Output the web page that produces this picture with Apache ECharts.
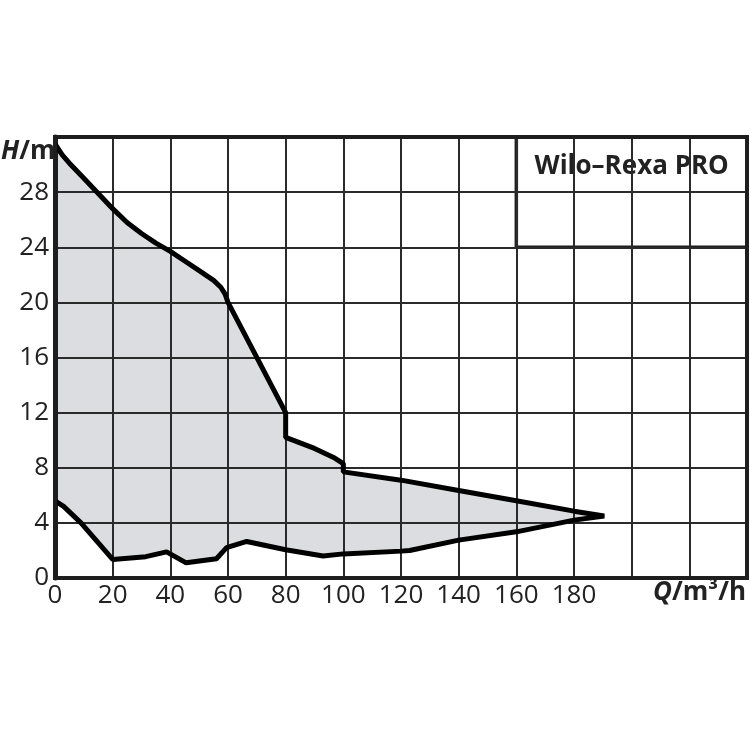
<!DOCTYPE html>
<html>
<head>
<meta charset="utf-8">
<script src="https://cdn.jsdelivr.net/npm/echarts@6/dist/echarts.min.js"></script>
<style>
html,body{margin:0;padding:0;background:#fff;}
#c{width:750px;height:750px;}
</style>
</head>
<body>
<div id="c"></div>
<script>
// Upper boundary of the operating range (Q in m³/h, H in m)
var upperQ = [0, 2.5, 5, 10, 20, 25, 30, 35, 40, 45, 50, 55, 57.5, 59, 60, 80, 80, 90, 97, 100, 100, 120, 140, 160, 180, 190.5];
var upperH = [31.5, 30.7, 30.1, 29.0, 26.8, 25.8, 25.0, 24.3, 23.7, 23.0, 22.3, 21.6, 21.1, 20.6, 20.0, 12.0, 10.2, 9.4, 8.7, 8.3, 7.7, 7.1, 6.35, 5.6, 4.85, 4.5];
// Lower boundary, from the tip back to Q = 0
var lowerQ = [190.5, 180, 160, 140, 123, 120, 100, 93, 80, 66.5, 59.5, 56, 45.5, 38.7, 31.5, 20, 9, 3, 0];
var lowerH = [4.5, 4.2, 3.35, 2.75, 2.0, 1.95, 1.75, 1.6, 2.05, 2.65, 2.2, 1.4, 1.1, 1.9, 1.55, 1.35, 4.0, 5.2, 5.6];

var xTicks = [0, 20, 40, 60, 80, 100, 120, 140, 160, 180];
var yTicks = [0, 4, 8, 12, 16, 20, 24, 28];
var titleText = 'Wilo–Rexa PRO';

var outline = [];
for (var i = 0; i < upperQ.length; i++) outline.push([upperQ[i], upperH[i]]);
for (var j = 1; j < lowerQ.length; j++) outline.push([lowerQ[j], lowerH[j]]);

var FONT = '"Open Sans", "Noto Sans", sans-serif';
var chart = echarts.init(document.getElementById('c'), null, {renderer: 'canvas'});

chart.setOption({
  animation: false,
  backgroundColor: '#fff',
  grid: {left: 55, right: 2, top: 137, bottom: 172, show: true, borderWidth: 4, borderColor: '#1e1e1e', z: 6},
  xAxis: {
    type: 'value', min: 0, max: 240, interval: 20, z: 3,
    axisLine: {show: true, lineStyle: {color: '#1e1e1e', width: 4}},
    axisTick: {show: false},
    splitLine: {show: true, lineStyle: {color: '#2a2a2a', width: 2}},
    axisLabel: {
      color: '#222', fontFamily: FONT, fontSize: 26, margin: 5,
      formatter: function (v) { return xTicks.indexOf(v) >= 0 ? String(v) : ''; }
    }
  },
  yAxis: {
    type: 'value', min: 0, max: 32, interval: 4, z: 3,
    axisLine: {show: true, lineStyle: {color: '#1e1e1e', width: 5}},
    axisTick: {show: false},
    splitLine: {show: true, lineStyle: {color: '#2a2a2a', width: 2}},
    axisLabel: {
      color: '#222', fontFamily: FONT, fontSize: 26, margin: 6,
      formatter: function (v) { return yTicks.indexOf(v) >= 0 ? String(v) : ''; }
    }
  },
  graphic: [
    {
      type: 'text', left: 1, top: 139, z: 10,
      style: {
        text: '{a|H}{b|/m}',
        rich: {
          a: {fontFamily: FONT, fontSize: 26, fontWeight: 'bold', fontStyle: 'italic', fill: '#222'},
          b: {fontFamily: FONT, fontSize: 26, fontWeight: 'bold', fill: '#222'}
        }
      }
    },
    {
      type: 'text', right: 4, top: 580, z: 10,
      style: {
        text: '{a|Q}{b|/m³/h}',
        rich: {
          a: {fontFamily: FONT, fontSize: 26, fontWeight: 'bold', fontStyle: 'italic', fill: '#222'},
          b: {fontFamily: FONT, fontSize: 26, fontWeight: 'bold', fill: '#222'}
        }
      }
    }
  ],
  series: [
    {
      type: 'custom', z: 1, silent: true,
      renderItem: function (params, api) {
        var pts = outline.map(function (p) { return api.coord(p); });
        pts.push(api.coord([0, upperH[0]]));
        return {type: 'polygon', shape: {points: pts}, style: {fill: '#dcdde0', stroke: null}};
      },
      data: [[0, 0]]
    },
    {
      type: 'line', z: 5, silent: true,
      data: outline, showSymbol: false, symbol: 'none',
      lineStyle: {color: '#000', width: 5, join: 'bevel', cap: 'butt'},
      markArea: {
        silent: true,
        itemStyle: {color: '#fff', borderColor: '#1e1e1e', borderWidth: 3.5, opacity: 1},
        label: {
          show: true, position: 'insideTop', distance: 18,
          fontFamily: FONT, fontSize: 26, fontWeight: 'bold', color: '#222'
        },
        data: [[{coord: [160, 32], name: titleText}, {coord: [240, 24]}]]
      }
    }
  ]
});
</script>
</body>
</html>
